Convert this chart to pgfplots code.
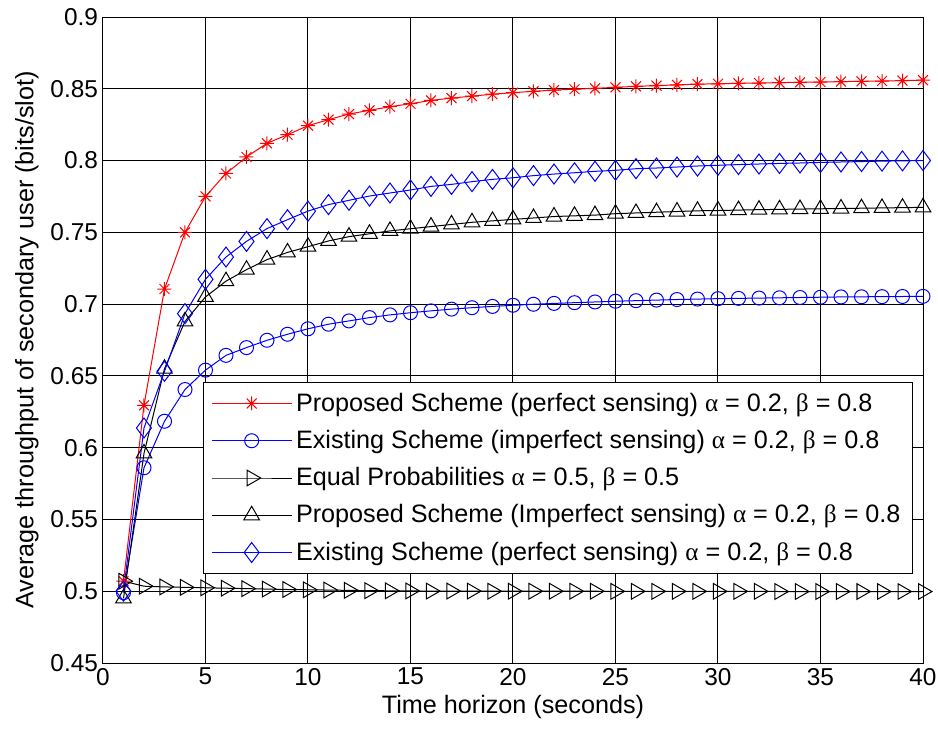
\documentclass[border=0pt]{standalone}
\usepackage{pgfplots}
\pgfplotsset{compat=1.18}
\usepackage{pgfplotstable}
\usepackage{fontspec}
\setmainfont{Liberation Sans}
\newfontfamily\grk{Liberation Serif}

% matlab-style '*' marker: plus and cross together
\pgfdeclareplotmark{mstar}{%
  \pgfpathmoveto{\pgfqpoint{0pt}{\pgfplotmarksize}}\pgfpathlineto{\pgfqpoint{0pt}{-\pgfplotmarksize}}%
  \pgfpathmoveto{\pgfqpoint{\pgfplotmarksize}{0pt}}\pgfpathlineto{\pgfqpoint{-\pgfplotmarksize}{0pt}}%
  \pgfpathmoveto{\pgfqpoint{0.707\pgfplotmarksize}{0.707\pgfplotmarksize}}\pgfpathlineto{\pgfqpoint{-0.707\pgfplotmarksize}{-0.707\pgfplotmarksize}}%
  \pgfpathmoveto{\pgfqpoint{0.707\pgfplotmarksize}{-0.707\pgfplotmarksize}}\pgfpathlineto{\pgfqpoint{-0.707\pgfplotmarksize}{0.707\pgfplotmarksize}}%
  \pgfusepathqstroke}

% x, proposed perfect, existing imperfect, equal prob, proposed imperfect, existing perfect
\pgfplotstableread{
x  pp      ei      eq      pi      ep
1  0.507   0.499   0.507   0.495   0.500
2  0.6295  0.586   0.5035  0.596   0.6137
3  0.7105  0.6184  0.5030  0.655   0.6532
4  0.750   0.6405  0.5027  0.688   0.6934
5  0.775   0.654   0.5024  0.705   0.7173
6  0.791   0.6643  0.5021  0.716   0.7328
7  0.8025  0.6697  0.5018  0.724   0.7437
8  0.812   0.6748  0.5015  0.731   0.7526
9  0.818   0.679   0.5012  0.736   0.7588
10 0.8243  0.6828  0.5010  0.740   0.7648
11 0.8285  0.686   0.5008  0.744   0.7693
12 0.8324  0.6883  0.5006  0.747   0.7723
13 0.835   0.6906  0.5004  0.749   0.7753
14 0.8375  0.6925  0.5003  0.751   0.7774
15 0.8396  0.694   0.5002  0.7525  0.7795
16 0.8419  0.6953  0.5001  0.754   0.7820
17 0.8435  0.6965  0.5001  0.7555  0.7834
18 0.8449  0.6975  0.5001  0.757   0.7853
19 0.8462  0.6984  0.5000  0.758   0.7869
20 0.8473  0.6992  0.5000  0.759   0.7880
21 0.8482  0.6999  0.5000  0.760   0.7895
22 0.8491  0.7005  0.5000  0.761   0.7906
23 0.8497  0.7010  0.5000  0.7615  0.7915
24 0.8503  0.7015  0.5000  0.762   0.7925
25 0.8510  0.7020  0.4999  0.763   0.7932
26 0.8517  0.7024  0.4999  0.7635  0.7943
27 0.8522  0.7028  0.4999  0.764   0.7948
28 0.8527  0.7032  0.4999  0.7645  0.7955
29 0.8532  0.7035  0.4999  0.765   0.7962
30 0.8535  0.7038  0.4999  0.7652  0.7967
31 0.8538  0.7040  0.4999  0.7655  0.7972
32 0.8540  0.7042  0.4999  0.7658  0.7976
33 0.8543  0.7044  0.4998  0.766   0.7980
34 0.8545  0.7046  0.4998  0.7662  0.7983
35 0.8547  0.7048  0.4998  0.7664  0.7987
36 0.8550  0.7050  0.4998  0.7666  0.7990
37 0.8552  0.7051  0.4998  0.7668  0.7993
38 0.8554  0.7052  0.4998  0.767   0.7996
39 0.8557  0.7053  0.4998  0.7672  0.7998
40 0.8560  0.7054  0.4998  0.7674  0.8000
}\thrtable

\begin{document}
\begin{tikzpicture}
\useasboundingbox (-51.5pt,-33pt) rectangle (417.5pt,331.5pt);
\begin{axis}[
  scale only axis,
  width=410pt, height=323pt,
  xmin=0, xmax=40, ymin=0.45, ymax=0.9,
  xtick={0,5,...,40},
  ytick={0.45,0.5,0.55,0.6,0.65,0.7,0.75,0.8,0.85,0.9},
  yticklabel style={/pgf/number format/fixed, /pgf/number format/precision=2},
  /pgf/number format/assume math mode=true,
  tick label style={font=\fontsize{12.2}{14}\selectfont},
  xticklabel style={yshift=1pt},
  yticklabel style={xshift=1pt},
  label style={font=\fontsize{12.6}{15}\selectfont},
  xlabel={Time horizon (seconds)},
  ylabel={Average throughput of secondary user (bits/slot)},
  xlabel style={yshift=2pt},
  ylabel style={yshift=-1pt},
  grid=major,
  grid style={black, line width=0.5pt},
  axis line style={line width=0.5pt},
  major tick length=0pt,
  legend cell align=left,
  legend style={at={(axis cs:4.87,0.6455)}, anchor=north west,
    draw=black, line width=0.5pt, fill=white,
    font=\fontsize{12.6}{14}\selectfont,
    row sep=4pt, inner xsep=4pt, inner ysep=3pt},
  legend image code/.code={%
    \draw[mark repeat=2, mark phase=2] plot coordinates {(0cm,0cm) (0.7cm,0cm) (1.4cm,0cm)};},
  every axis plot/.append style={line width=0.5pt},
]
\addplot[red, mark=mstar, mark size=3.5pt] table[x=x, y=pp] {\thrtable};
\addlegendentry{Proposed Scheme (perfect sensing) {\grk α} = 0.2, {\grk β} = 0.8}
\addplot[blue, mark=o, mark size=3.5pt] table[x=x, y=ei] {\thrtable};
\addlegendentry{Existing Scheme (imperfect sensing) {\grk α} = 0.2, {\grk β} = 0.8}
\addplot[black, mark=triangle, mark size=4.5pt, mark options={rotate=-90}] table[x=x, y=eq] {\thrtable};
\addlegendentry{Equal Probabilities {\grk α} = 0.5, {\grk β} = 0.5}
\addplot[black, mark=triangle, mark size=4.5pt] table[x=x, y=pi] {\thrtable};
\addlegendentry{Proposed Scheme (Imperfect sensing) {\grk α} = 0.2, {\grk β} = 0.8}
\addplot[blue, mark=diamond, mark size=5pt] table[x=x, y=ep] {\thrtable};
\addlegendentry{Existing Scheme (perfect sensing) {\grk α} = 0.2, {\grk β} = 0.8}
\end{axis}
\end{tikzpicture}
\end{document}
